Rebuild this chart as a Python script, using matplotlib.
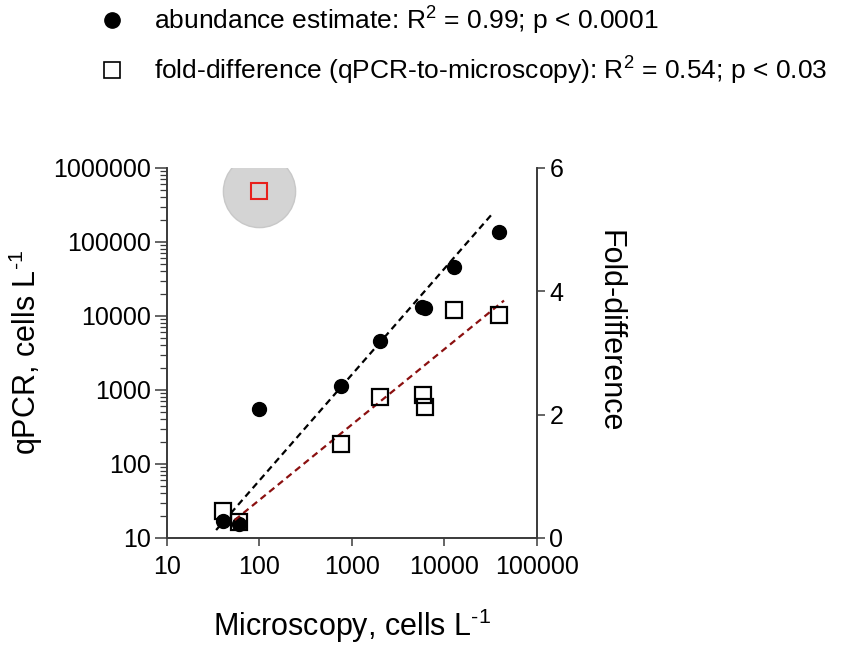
import matplotlib
matplotlib.use("Agg")
import matplotlib.pyplot as plt
from matplotlib.lines import Line2D
from matplotlib.ticker import LogLocator, FixedLocator, NullFormatter, NullLocator

plt.rcParams['font.family'] = ['Liberation Sans', 'DejaVu Sans']
plt.rcParams['mathtext.fontset'] = 'custom'
plt.rcParams['mathtext.rm'] = 'Liberation Sans'
plt.rcParams['mathtext.it'] = 'Liberation Sans:italic'

# abundance estimate (left axis, log-log)
micro_ab = [40, 60, 100, 765, 2000, 5700, 6200, 12700, 39000]
qpcr_ab = [17, 15.5, 550, 1140, 4550, 13200, 12900, 46300, 137000]

# fold-difference (right axis)
micro_fd = [40, 60, 765, 2000, 5800, 6100, 12700, 39000]
fold_fd = [0.44, 0.26, 1.52, 2.28, 2.32, 2.13, 3.70, 3.62]

# highlighted outlier
micro_out = [100]
fold_out = [5.62]

# regression lines (end points)
fit_ab_x = [34, 33700]
fit_ab_y = [12.8, 249000]
fit_fd_x = [54, 44000]
fit_fd_y = [0.29, 3.85]

xticks = [10, 100, 1000, 10000, 100000]
yticks = [10, 100, 1000, 10000, 100000, 1000000]
fticks = [0, 2, 4, 6]

labels = [
    'abundance estimate: R$^2$ = 0.99; p < 0.0001',
    'fold-difference (qPCR-to-microscopy): R$^2$ = 0.54; p < 0.03',
]

fig = plt.figure(figsize=(8.51, 6.47), dpi=100)
ax = fig.add_axes([0.1962, 0.1685, 0.4348, 0.5719])
ax2 = ax.twinx()

spine_col = '#3a3a3a'

ax.set_xscale('log')
ax.set_yscale('log')
ax.set_xlim(10, 100000)
ax.set_ylim(10, 1000000)
ax.set_xticks(xticks)
ax.set_xticklabels([str(v) for v in xticks])
ax.set_yticks(yticks)
ax.set_yticklabels([str(v) for v in yticks])
ax.xaxis.set_minor_locator(LogLocator(base=10, subs=range(2, 10)))
ax.yaxis.set_minor_locator(LogLocator(base=10, subs=range(2, 10)))
ax.xaxis.set_minor_formatter(NullFormatter())
ax.yaxis.set_minor_formatter(NullFormatter())

ax.plot(fit_ab_x, fit_ab_y, color='black', ls=(0, (3, 2)), lw=1.6, zorder=2)
ax.plot(micro_ab, qpcr_ab, 'o', color='black', ms=10, zorder=3)

ax2.set_ylim(0, 6)
ax2.yaxis.set_major_locator(FixedLocator(fticks))
ax2.yaxis.set_minor_locator(NullLocator())
ax2.plot(micro_out, fold_out, 'o', color='#d4d4d4', mec='#c8c8c8', ms=52, zorder=1)
ax2.plot(micro_out, fold_out, 's', mfc='none', mec='#e8201c', mew=1.5, ms=11, zorder=4)
ax2.plot(fit_fd_x, fit_fd_y, color='#8b1010', ls=(0, (3, 2)), lw=1.6, zorder=2)
ax2.plot(micro_fd, fold_fd, 's', mfc='none', mec='black', mew=1.6, ms=11, zorder=3)

for a in (ax, ax2):
    a.spines['top'].set_visible(False)
    for s in ('left', 'right', 'bottom'):
        a.spines[s].set_color(spine_col)
        a.spines[s].set_linewidth(1.2)
    a.tick_params(which='major', length=6, width=1.1, color=spine_col, labelsize=18,
                  direction='out', pad=3)
    a.tick_params(which='minor', length=3, width=0.9, color=spine_col, direction='out')
ax.tick_params(axis='y', which='major', length=8.5, pad=3)
ax.tick_params(axis='y', which='minor', length=5)
ax.tick_params(axis='x', which='major', pad=6)

ax.set_xlabel('Microscopy, cells L$^{\\text{-}1}$', fontsize=22, labelpad=20)
ax.set_ylabel('qPCR, cells L$^{\\text{-}1}$', fontsize=22)
ax.yaxis.set_label_coords(-0.33, 0.5)
ax2.set_ylabel('Fold-difference', fontsize=22, rotation=270, va='bottom')
ax2.yaxis.set_label_coords(1.155, 0.56)

# legend drawn by hand at the top of the figure
W, H = 851, 647
mk_x = 112 / W
rows_y = [20, 70]
base_y = [30, 80]
fig.add_artist(Line2D([mk_x], [1 - rows_y[0] / H], transform=fig.transFigure,
                      ls='none', marker='o', color='black', ms=11))
fig.add_artist(Line2D([mk_x], [1 - rows_y[1] / H], transform=fig.transFigure,
                      ls='none', marker='s', mfc='none', mec='black', mew=1.2, ms=11.5))
for lab, by in zip(labels, base_y):
    fig.text(154 / W, 1 - by / H, lab, fontsize=19, va='baseline', ha='left')

fig.savefig('out.png', dpi=100)
